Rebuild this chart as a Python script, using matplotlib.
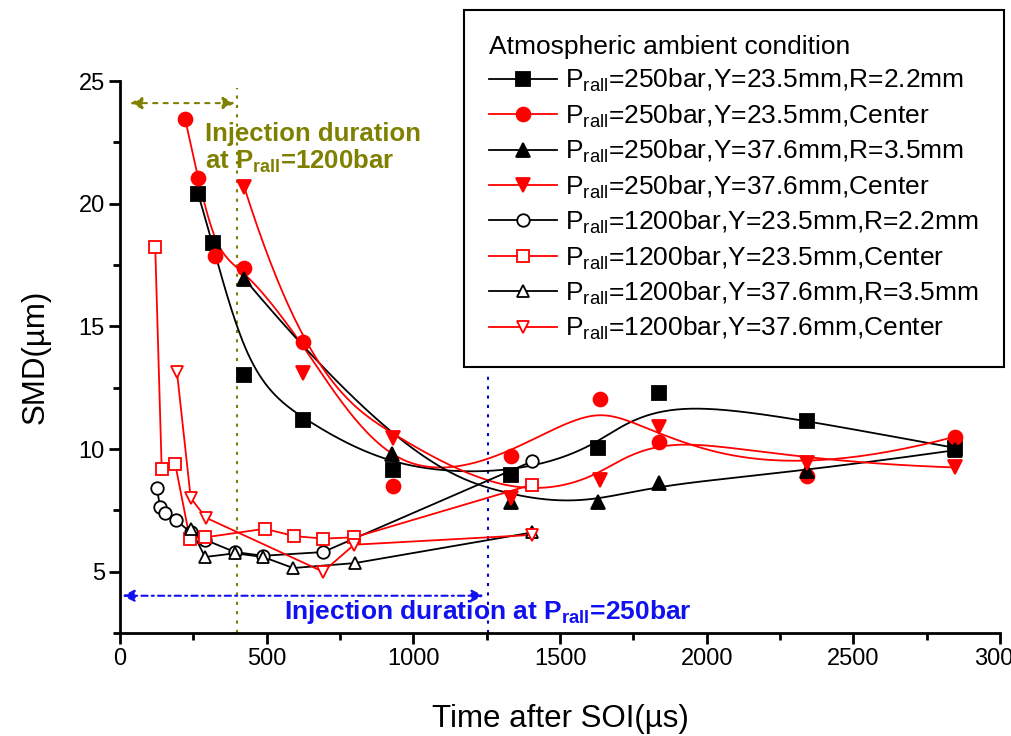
import numpy as np
import matplotlib
matplotlib.use('Agg')
from matplotlib import pyplot as plt

plt.rcParams['font.family'] = ['Liberation Sans', 'DejaVu Sans']
plt.rcParams['mathtext.fontset'] = 'custom'
plt.rcParams['mathtext.rm'] = 'Liberation Sans'
plt.rcParams['mathtext.bf'] = 'Liberation Sans:bold'

# P_rall = 250 bar (filled markers, B-spline connection)
t_250_y23_r22 = [266, 317, 423, 624, 931, 1333, 1630, 1838, 2342, 2845]
smd_250_y23_r22 = [20.4, 18.4, 13.0, 11.2, 9.15, 8.95, 10.05, 12.3, 11.15, 10.05]

t_250_y23_c = [222, 266, 324, 423, 624, 931, 1333, 1637, 1838, 2342, 2845]
smd_250_y23_c = [23.45, 21.05, 17.85, 17.37, 14.35, 8.5, 9.7, 12.05, 10.3, 8.9, 10.5]

t_250_y37_r35 = [423, 927, 1333, 1630, 1838, 2342, 2845]
smd_250_y37_r35 = [16.95, 9.8, 7.85, 7.85, 8.6, 9.1, 9.95]

t_250_y37_c = [423, 624, 931, 1333, 1637, 1838, 2342, 2845]
smd_250_y37_c = [20.7, 13.1, 10.45, 8.0, 8.75, 10.9, 9.45, 9.25]

# P_rall = 1200 bar (open markers, straight lines)
t_1200_y23_r22 = [126, 136, 153, 191, 241, 290, 392, 488, 692, 1405]
smd_1200_y23_r22 = [8.4, 7.65, 7.4, 7.1, 6.6, 6.3, 5.8, 5.65, 5.8, 9.5]

t_1200_y23_c = [120, 142, 188, 238, 290, 494, 594, 692, 798, 1405]
smd_1200_y23_c = [18.25, 9.2, 9.4, 6.35, 6.4, 6.75, 6.45, 6.35, 6.4, 8.55]

t_1200_y37_r35 = [241, 290, 392, 488, 590, 800, 1405]
smd_1200_y37_r35 = [6.75, 5.6, 5.75, 5.6, 5.15, 5.35, 6.6]

t_1200_y37_c = [194, 241, 293, 692, 798, 1405]
smd_1200_y37_c = [13.15, 8.0, 7.2, 5.0, 6.1, 6.5]

labels = [r'P$_{\mathrm{rall}}$=250bar,Y=23.5mm,R=2.2mm',
          r'P$_{\mathrm{rall}}$=250bar,Y=23.5mm,Center',
          r'P$_{\mathrm{rall}}$=250bar,Y=37.6mm,R=3.5mm',
          r'P$_{\mathrm{rall}}$=250bar,Y=37.6mm,Center',
          r'P$_{\mathrm{rall}}$=1200bar,Y=23.5mm,R=2.2mm',
          r'P$_{\mathrm{rall}}$=1200bar,Y=23.5mm,Center',
          r'P$_{\mathrm{rall}}$=1200bar,Y=37.6mm,R=3.5mm',
          r'P$_{\mathrm{rall}}$=1200bar,Y=37.6mm,Center']

olive = '#808000'
blue = '#1010f0'


def bspline(xs, ys, num=400, k=3):
    # clamped uniform B-spline using the data points as control points
    pts = np.column_stack([xs, ys]).astype(float)
    n = len(pts)
    k = min(k, n - 1)
    knots = np.concatenate([np.zeros(k), np.linspace(0, 1, n - k + 1), np.ones(k)])
    u = np.linspace(0, 1, num)
    u[-1] = 1 - 1e-10

    def basis(i, d):
        if d == 0:
            return ((knots[i] <= u) & (u < knots[i + 1])).astype(float)
        out = np.zeros_like(u)
        den1 = knots[i + d] - knots[i]
        if den1 > 0:
            out += (u - knots[i]) / den1 * basis(i, d - 1)
        den2 = knots[i + d + 1] - knots[i + 1]
        if den2 > 0:
            out += (knots[i + d + 1] - u) / den2 * basis(i + 1, d - 1)
        return out

    B = np.array([basis(i, k) for i in range(n)])
    curve = B.T @ pts
    return curve[:, 0], curve[:, 1]


fig = plt.figure(figsize=(10.12, 7.36), dpi=100)
ax = fig.add_axes([0.1186, 0.1399, 0.8696, 0.75])

series = [
    (t_250_y23_r22, smd_250_y23_r22, 's', 'black', 'black', True),
    (t_250_y23_c, smd_250_y23_c, 'o', 'red', 'red', True),
    (t_250_y37_r35, smd_250_y37_r35, '^', 'black', 'black', True),
    (t_250_y37_c, smd_250_y37_c, 'v', 'red', 'red', True),
    (t_1200_y23_r22, smd_1200_y23_r22, 'o', 'black', 'white', False),
    (t_1200_y23_c, smd_1200_y23_c, 's', 'red', 'white', False),
    (t_1200_y37_r35, smd_1200_y37_r35, '^', 'black', 'white', False),
    (t_1200_y37_c, smd_1200_y37_c, 'v', 'red', 'white', False),
]

handles = []
for (t, v, m, c, fc, smooth), lab in zip(series, labels):
    if smooth:
        xs, ys = bspline(t, v)
        ms = 10
    else:
        xs, ys = t, v
        ms = 9
    ax.plot(xs, ys, '-', color=c, lw=1.3, zorder=2)
    ax.plot(t, v, m, ls='none', color=c, mfc=fc, mec=c, ms=ms, mew=1.3, zorder=3)
    h, = ax.plot([], [], '-', marker=m, color=c, mfc=fc, mec=c, ms=ms, mew=1.3, lw=1.3)
    handles.append(h)

# injection duration markers
ax.plot([400, 400], [2.5, 24.7], ls=(0, (1.5, 3)), color=olive, lw=1.5, zorder=1)
ax.plot([1255, 1255], [2.5, 13.0], ls=(0, (1.5, 3)), color='#0000c0', lw=1.5, zorder=1)
ax.annotate('', xy=(392, 24.1), xytext=(34, 24.1),
            arrowprops=dict(arrowstyle='<|-|>', ls=(0, (2, 3)), color=olive, lw=1.5,
                            mutation_scale=18, shrinkA=0, shrinkB=0))
ax.annotate('', xy=(1240, 4.02), xytext=(8, 4.02),
            arrowprops=dict(arrowstyle='<|-|>', ls=(0, (3, 2, 1, 2)), color=blue, lw=1.5,
                            mutation_scale=18, shrinkA=0, shrinkB=0))
ax.text(290, 22.85, 'Injection duration', color=olive, fontsize=18.5, fontweight='bold',
        va='center', ha='left')
ax.text(290, 21.72, r'at P$_{\mathbf{rall}}$=1200bar', color=olive, fontsize=18.5,
        fontweight='bold', va='center', ha='left')
ax.text(560, 3.37, r'Injection duration at P$_{\mathbf{rall}}$=250bar', color=blue,
        fontsize=19, fontweight='bold', va='center', ha='left')

ax.set_xlim(0, 3000)
ax.set_ylim(2.5, 25)
ax.set_xticks([0, 500, 1000, 1500, 2000, 2500, 3000])
ax.set_xticks([250, 750, 1250, 1750, 2250, 2750], minor=True)
ax.set_yticks([5, 10, 15, 20, 25])
ax.set_yticks([2.5, 7.5, 12.5, 17.5, 22.5], minor=True)
ax.spines['top'].set_visible(False)
ax.spines['right'].set_visible(False)
ax.spines['left'].set_linewidth(2)
ax.spines['bottom'].set_linewidth(2)
ax.tick_params(which='major', direction='out', length=8, width=2, labelsize=17, pad=3)
ax.tick_params(which='minor', direction='out', length=5, width=2)
ax.set_xlabel('Time after SOI(µs)', fontsize=22.5, labelpad=24)
ax.set_ylabel('SMD(µm)', fontsize=22.5, labelpad=20)

leg = fig.legend(handles=handles, labels=labels, loc='upper right',
                 bbox_to_anchor=(1004 / 1012, 1 - 10 / 736), fontsize=19,
                 title='Atmospheric ambient condition', title_fontsize=19,
                 alignment='left', numpoints=1, handlelength=2.6, handletextpad=0.3,
                 labelspacing=0.3, borderpad=0.95, borderaxespad=0, fancybox=False,
                 framealpha=1, edgecolor='black')
leg.get_frame().set_linewidth(1.5)

fig.savefig('out.png', dpi=100)
